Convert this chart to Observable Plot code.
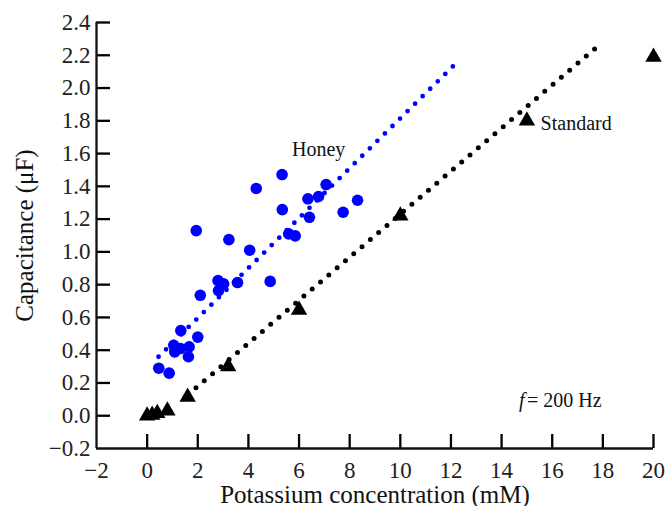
<!DOCTYPE html>
<html><head><meta charset="utf-8">
<script src="https://cdn.jsdelivr.net/npm/d3@7"></script>
<script src="https://cdn.jsdelivr.net/npm/@observablehq/plot@0.6"></script>
<style>
body{margin:0;background:#fff;}
#chart svg{display:block;}
</style>
</head><body><div id="chart"></div>
<script>
// Honey samples (K+ concentration mM, capacitance µF)
const honeyX = [0.46, 0.87, 1.05, 1.09, 1.33, 1.32, 1.66, 1.63, 2.00, 2.10, 1.94, 2.80, 3.02, 2.82, 3.57, 3.23, 4.05, 4.31, 4.86, 5.33, 5.34, 5.59, 5.85, 6.35, 6.41, 6.77, 7.07, 7.74, 8.31];
const honeyY = [0.29, 0.26, 0.43, 0.39, 0.52, 0.41, 0.42, 0.36, 0.48, 0.735, 1.13, 0.825, 0.805, 0.764, 0.813, 1.075, 1.01, 1.387, 0.82, 1.472, 1.258, 1.11, 1.098, 1.324, 1.211, 1.338, 1.411, 1.242, 1.315];
// Standard solutions
const standardX = [0, 0.2, 0.4, 0.8, 1.6, 3.2, 6, 10, 15, 20];
const standardY = [0, 0.005, 0.015, 0.03, 0.115, 0.30, 0.645, 1.22, 1.80, 2.19];
// Fitted lines (end points)
const honeyFitX = [0.45, 12.2];
const honeyFitY = [0.36, 2.151];
const standardFitX = [1.6, 17.8];
const standardFitY = [0.127, 2.255];
// Ticks
const xTicks = [-2, 0, 2, 4, 6, 8, 10, 12, 14, 16, 18, 20];
const yTicks = [-0.2, 0, 0.2, 0.4, 0.6, 0.8, 1.0, 1.2, 1.4, 1.6, 1.8, 2.0, 2.2, 2.4];
// Labels
const seriesLabels = ["Honey", "Standard"];
const freqLabel = ["f", "= 200 Hz"];

const honey = honeyX.map((x, i) => ({x, y: honeyY[i]}));
const standard = standardX.map((x, i) => ({x, y: standardY[i]}));
const honeyFit = honeyFitX.map((x, i) => ({x, y: honeyFitY[i]}));
const standardFit = standardFitX.map((x, i) => ({x, y: standardFitY[i]}));
const fmtNum = d => (d < 0 ? "\u2212" : "") + Math.abs(d);
const fmtY = d => (d < 0 ? "\u2212" : "") + Math.abs(d).toFixed(1);

const W = 667, H = 506, ML = 96, MR = 14, MT = 22, MB = 58, TICK = 14;
const xDom = [-2, 20], yDom = [-0.2, 2.4];
// tick length expressed in data units of each scale
const tickLenY = TICK * (yDom[1] - yDom[0]) / (H - MT - MB);
const tickLenX = TICK * (xDom[1] - xDom[0]) / (W - ML - MR);

const chart = Plot.plot({
  width: W,
  height: H,
  marginLeft: ML,
  marginRight: MR,
  marginTop: MT,
  marginBottom: MB,
  axis: null,
  style: {fontFamily: "'Liberation Serif', 'Times New Roman', serif", fontSize: "20px", color: "#111", background: "#fff"},
  x: {domain: xDom, axis: null},
  y: {domain: yDom, axis: null},
  marks: [
    Plot.text(xTicks, {x: d => d, y: yDom[0], text: fmtNum, lineAnchor: "top", dy: 13, fontSize: 23, fill: "#222"}),
    Plot.text(yTicks, {x: xDom[0], y: d => d, text: fmtY, textAnchor: "end", dx: -6, fontSize: 23, fill: "#222"}),
    Plot.text(["Potassium concentration (mM)"], {x: (xDom[0] + xDom[1]) / 2, y: yDom[0], text: d => d, lineAnchor: "bottom", dy: 54, fontSize: 25, fill: "#111"}),
    Plot.text(["Capacitance (\u03bcF)"], {x: xDom[0], y: (yDom[0] + yDom[1]) / 2, text: d => d, rotate: -90, lineAnchor: "middle", dx: -72, fontSize: 25, fill: "#111"}),
    Plot.ruleX(xTicks.slice(1), {x: d => d, y1: yDom[0], y2: yDom[0] + tickLenY, stroke: "#000", strokeWidth: 2.3}),
    Plot.ruleY(yTicks.slice(1), {y: d => d, x1: xDom[0], x2: xDom[0] + tickLenX, stroke: "#000", strokeWidth: 2.3}),
    Plot.ruleX([xDom[0]], {y1: yDom[0], y2: yDom[1], strokeWidth: 2.3}),
    Plot.ruleY([yDom[0]], {x1: xDom[0], x2: xDom[1], strokeWidth: 2.3}),
    Plot.line(honeyFit, {x: "x", y: "y", stroke: "#0000ff", strokeWidth: 4.8, strokeDasharray: "0,10.6", strokeLinecap: "round"}),
    Plot.line(standardFit, {x: "x", y: "y", stroke: "#000", strokeWidth: 5, strokeDasharray: "0,10.9", strokeLinecap: "round"}),
    Plot.dot(honey, {x: "x", y: "y", r: 5.8, fill: "#0000ff"}),
    Plot.dot(standard, {x: "x", y: "y", r: 6.1, symbol: "triangle", fill: "#000"}),
    Plot.text([seriesLabels[0]], {x: 5.72, y: 1.627, text: d => d, textAnchor: "start", fontSize: 20, fill: "#111"}),
    Plot.text([seriesLabels[1]], {x: 15.54, y: 1.78, text: d => d, textAnchor: "start", fontSize: 20, fill: "#111"}),
    Plot.text([freqLabel[0]], {x: 14.69, y: 0.095, text: d => d, textAnchor: "start", fontSize: 20, fontStyle: "italic", fill: "#111"}),
    Plot.text([freqLabel[1]], {x: 15.0, y: 0.095, text: d => d, textAnchor: "start", fontSize: 20, fill: "#111"})
  ]
});
document.getElementById("chart").appendChild(chart);
</script>
</body></html>
